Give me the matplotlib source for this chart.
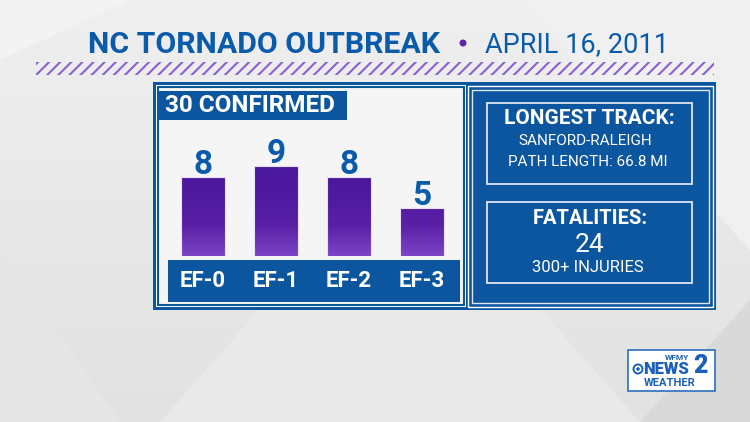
import matplotlib.pyplot as plt
import numpy as np
from matplotlib.patches import Rectangle, Polygon, Circle

# ==================== data ====================
categories = ['EF-0', 'EF-1', 'EF-2', 'EF-3']
counts = [8, 9, 8, 5]
title_left = 'NC TORNADO OUTBREAK'
title_right = 'APRIL 16, 2011'
badge = '30 CONFIRMED'
track_head = 'LONGEST TRACK:'
track_lines = ['SANFORD-RALEIGH', 'PATH LENGTH: 66.8 MI']
fatal_head = 'FATALITIES:'
fatal_count = '24'
injuries = '300+ INJURIES'

BLUE = '#0c559f'
TITLE_BLUE = '#0b5bab'
PURPLE = '#5a23a8'
FONT = 'Roboto'

plt.rcParams['font.family'] = [FONT, 'DejaVu Sans']

W, H = 750, 422
fig = plt.figure(figsize=(W / 100, H / 100), dpi=100)

# background axes in pixel coordinates
bg = fig.add_axes([0, 0, 1, 1])
bg.set_xlim(0, W)
bg.set_ylim(H, 0)
bg.axis('off')

grad = np.linspace(0, 1, 256).reshape(-1, 1)
bg.imshow(grad, extent=[0, W, H, 0], cmap=plt.matplotlib.colors.LinearSegmentedColormap.from_list(
    'bg', ['#efefef', '#e2e2e2']), aspect='auto', zorder=0)
# faint diagonal shapes
for pts, c in [([(0, 60), (130, 0), (0, 0)], '#f3f3f3'),
               ([(160, 422), (400, 150), (640, 422)], '#e9e9e9'),
               ([(520, 0), (750, 250), (750, 0)], '#f0f0f0'),
               ([(640, 422), (750, 300), (750, 422)], '#d9d9d9'),
               ([(0, 250), (120, 422), (0, 422)], '#e6e6e6')]:
    bg.add_patch(Polygon(pts, closed=True, fc=c, ec='none', zorder=1))

# title
bg.text(440, 45, title_left, ha='right', va='center', fontsize=21.8, fontweight='bold',
        color=TITLE_BLUE, zorder=5)
bg.add_patch(Circle((463, 43), 3.5, fc=PURPLE, ec='none', zorder=5))
bg.text(485, 45, title_right, ha='left', va='center', fontsize=19.5, color=TITLE_BLUE, zorder=5)

# hatched stripe
plt.rcParams['hatch.linewidth'] = 1.5
bg.add_patch(Rectangle((36, 62), 678, 13, fc='none', ec='#8a5fd0', lw=0, hatch='///', zorder=5))

# outer frame
bg.add_patch(Rectangle((153, 82), 563, 228, fc=BLUE, ec='none', zorder=2))
# left panel
bg.add_patch(Rectangle((156, 85), 310, 222, fc='white', ec='none', zorder=3))
bg.add_patch(Rectangle((158, 87), 306, 218, fc='#f5f5f5', ec=BLUE, lw=1.5, zorder=3))
bg.add_patch(Rectangle((158, 91), 189, 29, fc=BLUE, ec='none', zorder=4))
bg.text(165, 106, badge, ha='left', va='center', fontsize=17.5, fontweight='bold',
        color='white', zorder=5)
# category band
bg.add_patch(Rectangle((168, 260), 292, 42, fc=BLUE, ec='none', zorder=4))

# right panel
bg.add_patch(Rectangle((468, 86), 245, 221, fc=BLUE, ec='white', lw=1.0, zorder=3))
bg.add_patch(Rectangle((472, 90), 237, 213, fc='none', ec='#dfe6f0', lw=1.0, zorder=4))
bg.add_patch(Rectangle((487, 103), 205, 81, fc='none', ec='#dfe6f0', lw=1.3, zorder=4))
bg.add_patch(Rectangle((487, 202), 205, 81, fc='none', ec='#dfe6f0', lw=1.3, zorder=4))
bg.text(589, 119, track_head, ha='center', va='center', fontsize=15, fontweight='bold',
        color='white', zorder=5)
bg.text(585, 141, track_lines[0], ha='center', va='center', fontsize=11, color='white', zorder=5)
bg.text(588, 162, track_lines[1], ha='center', va='center', fontsize=11, color='white', zorder=5)
bg.text(590, 218, fatal_head, ha='center', va='center', fontsize=14.5, fontweight='bold',
        color='white', zorder=5)
bg.text(590, 245, fatal_count, ha='center', va='center', fontsize=19, color='white', zorder=5)
bg.text(588, 268, injuries, ha='center', va='center', fontsize=12, color='white', zorder=5)

# logo
LOGO = '#1a5fb8'
bg.add_patch(Rectangle((628, 350), 87, 41, fc='white', ec='#2a6fc0', lw=1.2, zorder=5))
bg.text(677, 358, 'WFMY', ha='center', va='center', fontsize=6, fontweight='bold',
        color=LOGO, zorder=6)
bg.text(643, 369, 'NEWS', ha='left', va='center', fontsize=12, fontweight='heavy',
        color=LOGO, zorder=6)
bg.text(701, 366, '2', ha='center', va='center', fontsize=18, fontweight='heavy',
        color=LOGO, zorder=6)
bg.text(670, 383, 'WEATHER', ha='center', va='center', fontsize=8, fontweight='bold',
        color=LOGO, zorder=6)
bg.add_patch(Circle((638, 369), 4.5, fc='none', ec=LOGO, lw=1.4, zorder=6))
bg.add_patch(Circle((638, 369), 1.8, fc=LOGO, ec='none', zorder=6))

# ==================== bars ====================
bar_bottom = 256
y0, y1 = 0.45, 10.0
unit = 10.5
ax = fig.add_axes([166.5 / W, (H - bar_bottom) / H, 292 / W, (y1 - y0) * unit / H])
ax.axis('off')
ax.patch.set_alpha(0)

x = np.arange(len(categories))
bars = ax.bar(x, counts, width=0.6, color='none', edgecolor='#e9e2f5', linewidth=0.8, zorder=3)
bar_cmap = plt.matplotlib.colors.LinearSegmentedColormap.from_list(
    'bar', ['#7b45c6', '#5a20a6', '#4d199e', '#4a189c'])
g = np.linspace(0, 1, 256).reshape(-1, 1)
for b in bars:
    bx = b.get_x()
    im = ax.imshow(g, extent=[bx, bx + b.get_width(), y0, 9.2], origin='lower',
                   cmap=bar_cmap, aspect='auto', zorder=2)
    im.set_clip_path(b)
for xi, v in zip(x, counts):
    ax.annotate(str(v), (xi, v), xytext=(0, -3), textcoords='offset points',
                ha='center', va='bottom', fontsize=24, fontweight='bold', color=TITLE_BLUE)
ax.set_xlim(-0.5, len(categories) - 0.5)
ax.set_ylim(y0, y1)

for xi, c in zip(x, categories):
    bg.text(166.5 + (xi + 0.5) * 73, 281, c, ha='center', va='center', fontsize=16,
            fontweight='bold', color='white', zorder=6)

fig.savefig('out.png', dpi=100)
